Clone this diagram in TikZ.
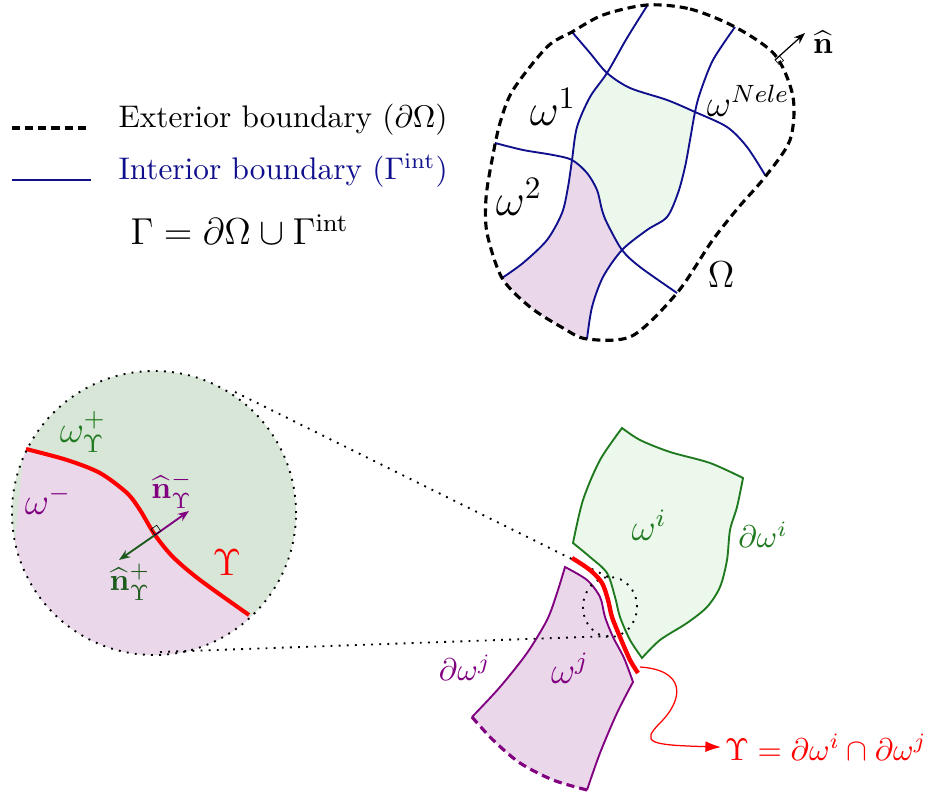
\documentclass[tikz,border=0pt]{standalone}
\usepackage{amsmath,amssymb}
\usepackage{xcolor}
\usepackage{tikz}
\usetikzlibrary{calc,arrows.meta,positioning}
\definecolor{navyc}{HTML}{10108C}
\definecolor{grc}{HTML}{1F7A1F}
\definecolor{dgrc}{HTML}{1E5C1E}
\definecolor{purc}{HTML}{800080}
\definecolor{lgreen}{HTML}{ECF8EC}
\definecolor{cgreen}{HTML}{D7E6D7}
\definecolor{lpurple}{HTML}{EAD7EA}
\tikzset{
  extb/.style={line width=1pt,dash pattern=on 2.6pt off 1.6pt},
  intb/.style={semithick,navyc},
  ar/.style={-{Stealth[length=3.6pt]}},
  zoomln/.style={dotted,line width=0.6pt},
  lab/.style={inner sep=1pt}
}
\begin{document}
\begin{tikzpicture}[x=0.32pt,y=0.32pt]
\useasboundingbox (0,0) rectangle (930,798);
% legend
\draw[extb] (12,670) -- (88,670);
\draw[intb] (12,618) -- (91,618);
\node[anchor=base west,inner sep=0pt] (lext) at (118,670) {Exterior boundary $(\partial\Omega)$};
\node[anchor=base west,inner sep=0pt,navyc] (lint) at (118,618) {Interior boundary $(\Gamma^{\mathrm{int}})$};
\node[anchor=base west,inner sep=0pt,font=\large] (leq) at (130,553) {$\Gamma=\partial\Omega\cup\Gamma^{\mathrm{int}}$};
% mesh of Omega
\fill[lgreen] plot[smooth] coordinates {(607,725) (590,701) (577,671) (572,638)}
 -- plot[smooth] coordinates {(572,638) (587,625) (597,608) (602,588) (607,575) (622,548)}
 -- plot[smooth] coordinates {(622,548) (647,568) (667,581) (678,605) (685,631) (690,658) (695,686)}
 -- plot[smooth] coordinates {(695,686) (667,698) (630,710) (607,725)} -- cycle;
\fill[lpurple] plot[smooth] coordinates {(572,638) (568,611) (562,585) (547,558) (523,535) (502,520)}
 -- plot[smooth] coordinates {(502,520) (530,491) (563,470) (587,459)}
 -- plot[smooth] coordinates {(587,459) (592,491) (603,521) (622,548)}
 -- plot[smooth] coordinates {(622,548) (607,575) (602,588) (597,608) (587,625) (572,638)} -- cycle;
\draw[intb] plot[smooth] coordinates {(647,792) (627,760) (607,725) (590,701) (577,671) (572,638) (568,611) (562,585) (547,558) (523,535) (502,520)};
\draw[intb] plot[smooth] coordinates {(572,766) (590,745) (607,725) (630,710) (667,698) (695,686) (727,671) (747,651) (765,623)};
\draw[intb] plot[smooth] coordinates {(735,771) (713,738) (700,705) (695,686) (690,658) (685,631) (678,605) (667,581) (647,568) (622,548) (603,521) (592,491) (587,459)};
\draw[intb] plot[smooth] coordinates {(495,655) (523,648) (553,643) (572,638) (587,625) (597,608) (602,588) (607,575) (622,548) (640,531) (677,505)};
\draw[extb] plot[smooth cycle] coordinates {(647,793) (690,789) (735,771) (775,743) (793,701) (790,658) (765,621) (738,590) (712,557) (677,505) (632,462) (587,459) (563,470) (530,491) (502,520) (487,565) (486,600) (492,638) (500,675) (513,708) (547,751) (572,766) (603,783)};
\node[font=\Large] (lw1) at (553,691) {$\omega^1$};
\node[font=\Large] (lw2) at (519,601) {$\omega^2$};
\node[font=\large] (lwN) at (748,697) {$\omega^{Nele}$};
\node[font=\large] (lOm) at (721,523) {$\Omega$};
\coordinate (nb) at (775,738);
\coordinate (nt) at (805,765);
\draw[ar] (nb) -- (nt);
\draw[very thin,shift={(nb)},rotate=42] (0,0) rectangle (6,-6);
\node (ln) at (823,756) {$\widehat{\mathbf{n}}$};
% zoom circle
\begin{scope}
\clip (154,285) circle [radius=142];
\fill[cgreen] (154,285) circle [radius=142];
\fill[lpurple] plot[smooth] coordinates {(24,350) (67,338) (100,325) (127,305) (140,288) (155,263) (173,241) (200,218) (252,180)} -- (320,100) -- (0,100) -- cycle;
\end{scope}
\draw[red,line width=1.3pt] plot[smooth] coordinates {(26,349) (67,338) (100,325) (127,305) (140,288) (155,263) (173,241) (200,218) (249,183)};
\coordinate (cb) at (155,263);
\coordinate (pt) at (189,287);
\coordinate (gt) at (119,238);
\draw[purc,semithick,ar] (cb) -- (pt);
\draw[dgrc,semithick,ar] (cb) -- (gt);
\draw[very thin,shift={(cb)},rotate=35] (0,0) rectangle (7,7);
\draw[zoomln] (154,285) circle [radius=142];
\node[grc,font=\large] (lwp) at (83,366) {$\omega^{+}_{\Upsilon}$};
\node[purc,font=\large] (lwm) at (48,298) {$\omega^{-}$};
\node[purc] (lnm) at (172,308) {$\widehat{\mathbf{n}}^{-}_{\Upsilon}$};
\node[dgrc] (lnp) at (130,216) {$\widehat{\mathbf{n}}^{+}_{\Upsilon}$};
\node[red,font=\large] (lup) at (227,235) {$\Upsilon$};
% elements i and j
\fill[lgreen] plot[smooth] coordinates {(622,370) (640,358) (670,346) (710,335) (743,320)}
 -- plot[smooth] coordinates {(743,320) (737,291) (730,268) (727,238) (720,211) (707,191) (687,175) (660,158) (642,140)}
 -- plot[smooth] coordinates {(642,140) (630,158) (620,181) (615,201) (607,225) (590,241) (573,255)}
 -- plot[smooth] coordinates {(573,255) (583,298) (600,338) (622,370)} -- cycle;
\draw[grc,semithick] plot[smooth] coordinates {(622,370) (640,358) (670,346) (710,335) (743,320)}
 -- plot[smooth] coordinates {(743,320) (737,291) (730,268) (727,238) (720,211) (707,191) (687,175) (660,158) (642,140)}
 -- plot[smooth] coordinates {(642,140) (630,158) (620,181) (615,201) (607,225) (590,241) (573,255)}
 -- plot[smooth] coordinates {(573,255) (583,298) (600,338) (622,370)} -- cycle;
\fill[lpurple] plot[smooth] coordinates {(565,231) (587,218) (600,201) (605,181) (613,161) (624,140) (633,116)}
 -- plot[smooth] coordinates {(633,116) (617,85) (600,45) (587,8)}
 -- plot[smooth] coordinates {(587,8) (553,18) (520,35) (493,58) (472,81)}
 -- plot[smooth] coordinates {(472,81) (500,111) (527,145) (547,178) (557,205) (565,231)} -- cycle;
\draw[purc,semithick] plot[smooth] coordinates {(472,81) (500,111) (527,145) (547,178) (557,205) (565,231)}
 -- plot[smooth] coordinates {(565,231) (587,218) (600,201) (605,181) (613,161) (624,140) (633,116)}
 -- plot[smooth] coordinates {(633,116) (617,85) (600,45) (587,8)};
\draw[purc,line width=1pt,dash pattern=on 2.6pt off 1.6pt] plot[smooth] coordinates {(587,8) (553,18) (520,35) (493,58) (472,81)};
\draw[zoomln] (610,191) ellipse [x radius=27, y radius=30];
\draw[zoomln] (235,406) -- (610,220);
\draw[zoomln] (160,146) -- (612,162);
\draw[red,line width=1.4pt] plot[smooth] coordinates {(572,240) (590,228) (602,215) (608,198) (612,181) (620,161) (630,138) (638,125)};
\node[grc,font=\large] (lwi) at (649,273) {$\omega^{i}$};
\node[grc] (ldwi) at (763,263) {$\partial\omega^{i}$};
\node[purc,font=\large] (lwj) at (570,130) {$\omega^{j}$};
\node[purc] (ldwj) at (465,130) {$\partial\omega^{j}$};
\node[red,anchor=base west,lab] (upseq) at (721,38) {$\Upsilon=\partial\omega^{i}\cap\partial\omega^{j}$};
\coordinate (rend) at (640,131);
\draw[red,-{Latex[length=5pt,width=3.5pt]}] (rend) .. controls (685,128) and (685,100) .. (660,75) .. controls (640,55) and (650,53) .. (upseq.west);
\end{tikzpicture}
\end{document}
